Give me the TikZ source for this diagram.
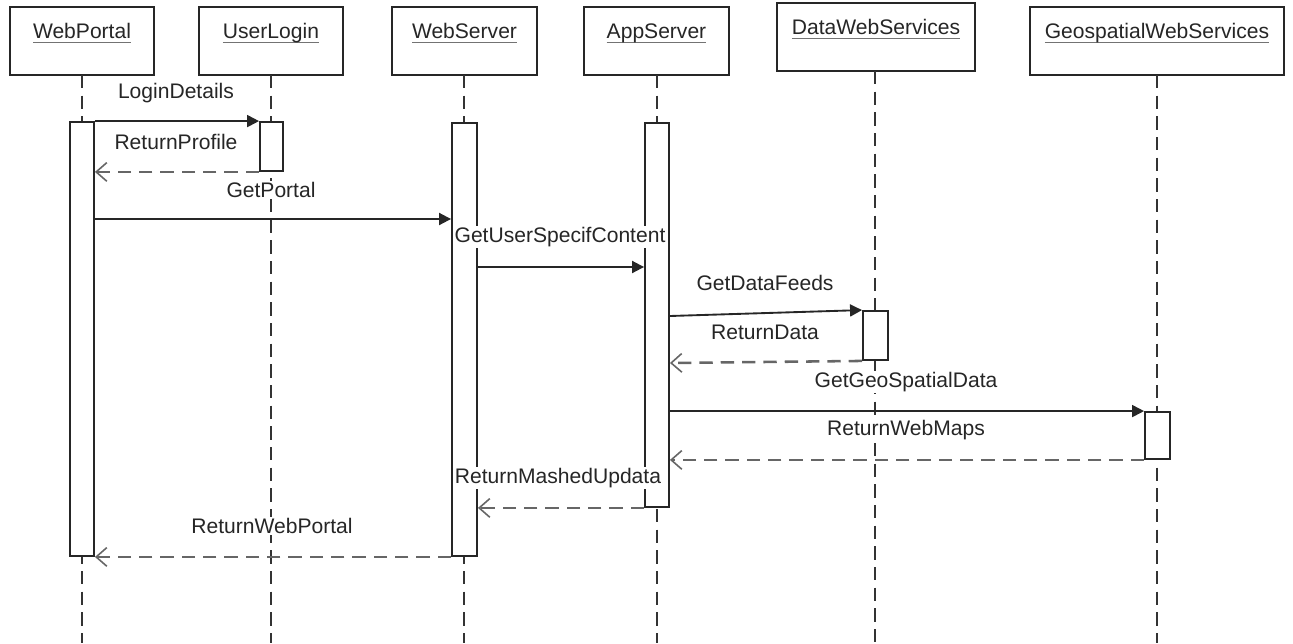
\documentclass[tikz,border=0pt]{standalone}
\usepackage{fontspec}
\setmainfont{Liberation Sans}
\usetikzlibrary{arrows.meta,fit}

% underlined participant name
\newcommand{\lifelinetitle}[1]{\setbox0\hbox{#1}\rlap{\color{black!55}\rule[-3.6pt]{\wd0}{1.2pt}}\box0}

\tikzset{
  txt/.style={font=\fontsize{15.8}{19}\selectfont},
  head/.style={draw=black!85, line width=1.6pt, fill=white, inner sep=0pt, txt, text=black!85},
  bar/.style={draw=black!85, line width=1.4pt, fill=white, inner sep=0pt},
  life/.style={draw=black!80, line width=1.5pt, dash pattern=on 10pt off 5.5pt},
  call/.style={draw=black!85, line width=1.4pt, -{Triangle[length=9pt,width=9pt]}},
  reply/.style={draw=black!60, line width=1.9pt, dash pattern=on 10pt off 6pt,
                -{Straight Barb[length=8pt,width=14pt,line width=1.2pt]}},
  msg/.style={txt, text=black!85, fill=white, inner sep=0.6pt}
}

\begin{document}
\begin{tikzpicture}[x=0.75pt,y=-0.75pt]
\useasboundingbox (0,0) rectangle (1293,643);

% participants
\node[head, fit={(10,7)(154,75)}]     (wp) {\lifelinetitle{WebPortal}};
\node[head, fit={(199,7)(343,75)}]    (ul) {\lifelinetitle{UserLogin}};
\node[head, fit={(392,7)(537,75)}]    (ws) {\lifelinetitle{WebServer}};
\node[head, fit={(584,7)(729,75)}]    (as) {\lifelinetitle{AppServer}};
\node[head, fit={(777,3)(975,71)}]    (dw) {\lifelinetitle{DataWebServices}};
\node[head, fit={(1030,7)(1284,75)}]  (ge) {\lifelinetitle{GeospatialWebServices}};

% bottom of the lifelines
\coordinate (bot) at (0,643);

% lifelines
\draw[life] (82,75)  coordinate (wpl) -- (wpl |- bot);
\draw[life] (271,75) coordinate (ull) -- (ull |- bot);
\draw[life] (464,75) coordinate (wsl) -- (wsl |- bot);
\draw[life] (657,75) coordinate (asl) -- (asl |- bot);
\draw[life] (875,71) coordinate (dwl) -- (dwl |- bot);
\draw[life] (1157,75) coordinate (gel) -- (gel |- bot);

% activation bars
\node[bar, fit={(70,122)(94,556)}]    (wpA) {};
\node[bar, fit={(260,122)(283,171)}]  (ulA) {};
\node[bar, fit={(452,123)(477,556)}]  (wsA) {};
\node[bar, fit={(645,123)(669,507)}]  (asA) {};
\node[bar, fit={(863,311)(888,360)}]  (dwA) {};
\node[bar, fit={(1145,412)(1170,459)}] (geA) {};

% message rows
\coordinate (r3) at (0,219);
\coordinate (r4) at (0,267);
\coordinate (r5) at (0,316);
\coordinate (r6) at (0,363);

% messages
\draw[call]  (wpA.north east) -- (ulA.north west);
\draw[reply] (ulA.south west) -- (wpA.east |- ulA.south west);
\draw[call]  (wpA.east |- r3) -- (wsA.west |- r3);
\draw[call]  (wsA.east |- r4) -- (asA.west |- r4);
\draw[call]  (asA.east |- r5) -- (dwA.north west);
\draw[reply] (dwA.south west) -- (asA.east |- r6);
\draw[call]  (asA.east |- geA.north west) -- (geA.north west);
\draw[reply] (geA.south west) -- (asA.east |- geA.south west);
\draw[reply] (asA.south west) -- (wsA.east |- asA.south west);
\draw[reply] (wsA.south west) -- (wpA.east |- wsA.south west);

% message labels
\node[msg] (m1)  at (176,93)  {LoginDetails};
\node[msg] (m2)  at (176,142) {ReturnProfile};
\node[msg] (m3)  at (271,190) {GetPortal};
\node[msg] (m4)  at (560,237) {GetUserSpecifContent};
\node[msg] (m5)  at (765,283) {GetDataFeeds};
\node[msg] (m6)  at (765,332) {ReturnData};
\node[msg] (m7)  at (906,382) {GetGeoSpatialData};
\node[msg] (m8)  at (906,430) {ReturnWebMaps};
\node[msg] (m9)  at (558,478) {ReturnMashedUpdata};
\node[msg] (m10) at (272,526) {ReturnWebPortal};
\end{tikzpicture}
\end{document}
